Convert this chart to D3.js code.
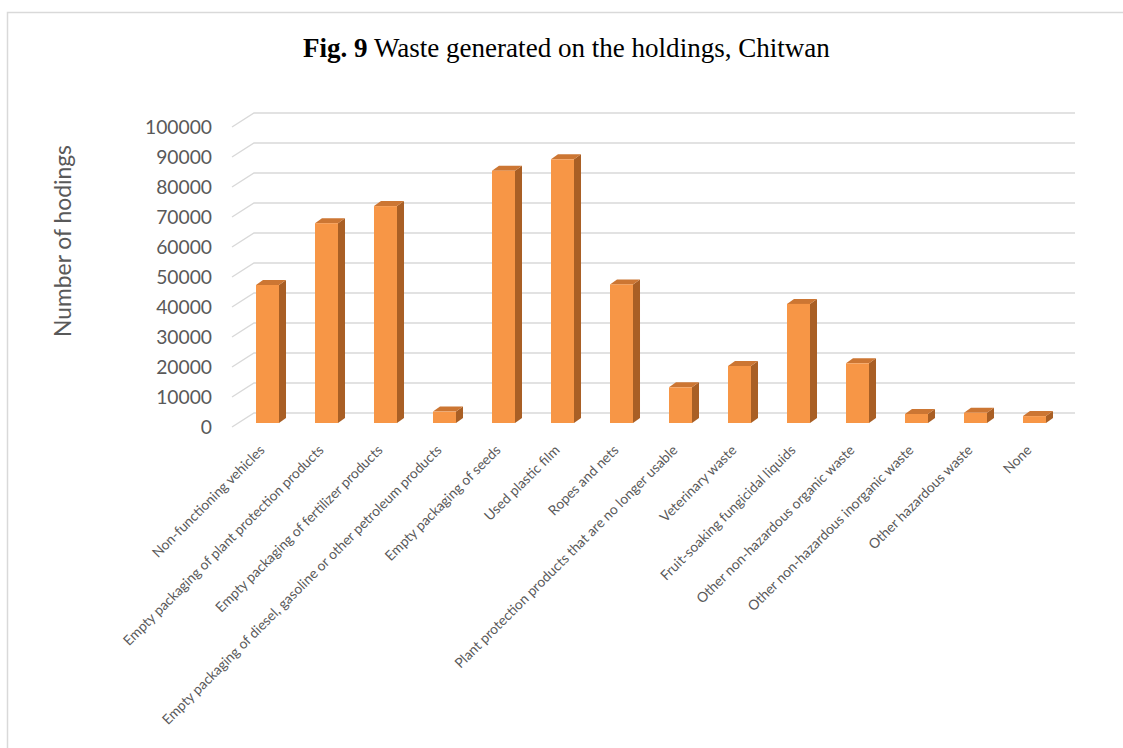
<!DOCTYPE html>
<html>
<head>
<meta charset="utf-8">
<script src="https://cdn.jsdelivr.net/npm/d3@7"></script>
<style>
  html, body { margin: 0; padding: 0; background: #ffffff; }
  svg { display: block; }
</style>
</head>
<body>
<svg id="chart" width="1123" height="748"></svg>
<script>
// ---- data ----
const categories = [
  "Non-functioning vehicles",
  "Empty packaging of plant protection products",
  "Empty packaging of fertilizer products",
  "Empty packaging of diesel, gasoline or other petroleum products",
  "Empty packaging of seeds",
  "Used plastic film",
  "Ropes and nets",
  "Plant protection products that are no longer usable",
  "Veterinary waste",
  "Fruit-soaking fungicidal liquids",
  "Other non-hazardous organic waste",
  "Other non-hazardous inorganic waste",
  "Other hazardous waste",
  "None"
];
const values = [46000, 66600, 72300, 3800, 84100, 87900, 46200, 11900, 19000, 39700, 19900, 3000, 3400, 2300];
const yTicks = [0, 10000, 20000, 30000, 40000, 50000, 60000, 70000, 80000, 90000, 100000];
const titleBold = "Fig. 9";
const titleRest = " Waste generated on the holdings, Chitwan";
const yTitle = "Number of hodings";

// ---- layout / style ----
const svg = d3.select("#chart");
const W = 1123, H = 748;
const depth = { dx: 7, dy: -5 };          // bar depth
const wall = { dx: 22, dy: -14 };         // floor depth (front -> back)
const gridBackX0 = 254, gridBackX1 = 1075;
const sans = "Lato, 'Open Sans', 'Liberation Sans', sans-serif";
const grey = "#595959";

const x = d3.scaleBand()
  .domain(categories)
  .range([238, 1064])
  .paddingInner(0.61)
  .paddingOuter(0.305);

const y = d3.scaleLinear().domain([0, 100000]).range([423, 123]);

function fit(sel, target) {
  const len = sel.node().getComputedTextLength();
  const fs = parseFloat(sel.attr("font-size"));
  sel.attr("font-size", (fs * target / len).toFixed(2));
}

// outer frame (top and left edges visible)
svg.append("path")
  .attr("d", `M7.5,${H} L7.5,12.5 L${W},12.5`)
  .attr("fill", "none")
  .attr("stroke", "#D9D9D9")
  .attr("stroke-width", 1.5);

// title
const title = svg.append("text")
  .attr("x", 303).attr("y", 57)
  .attr("font-family", "'Liberation Serif', 'Times New Roman', serif")
  .attr("font-size", 24)
  .attr("fill", "#000");
title.append("tspan").attr("font-weight", "bold").text(titleBold);
title.append("tspan").text(titleRest);
fit(title, 527);

// gridlines: left wall diagonal + back wall horizontal
const grid = svg.append("g");
yTicks.forEach(v => {
  const yb = y(v) - 10;
  grid.append("path")
    .attr("d", `M${gridBackX0 - wall.dx},${yb - wall.dy} L${gridBackX0},${yb} L${gridBackX1},${yb}`)
    .attr("fill", "none")
    .attr("stroke", "#D9D9D9")
    .attr("stroke-width", 1.4);
});

// y axis labels
const yAxisG = svg.append("g")
  .attr("transform", "translate(212,4)")
  .call(d3.axisLeft(y).tickValues(yTicks).tickFormat(d3.format("d")).tickSize(0).tickPadding(0));
yAxisG.select(".domain").remove();
yAxisG.selectAll("text")
  .attr("font-family", sans)
  .attr("font-size", 20)
  .attr("fill", grey);
const topLabel = yAxisG.selectAll("text").filter(d => d === 100000);
const fs0 = 20 * 67 / topLabel.node().getComputedTextLength();
yAxisG.selectAll("text").attr("font-size", fs0.toFixed(2));

// y title
const yt = svg.append("text")
  .attr("transform", "translate(62,241) rotate(-90)")
  .attr("text-anchor", "middle")
  .attr("dominant-baseline", "central")
  .attr("font-family", sans)
  .attr("font-size", 21)
  .attr("fill", grey)
  .text(yTitle);
fit(yt, 192);

// bars
const bars = svg.append("g").selectAll("g").data(categories).join("g");
bars.each(function(c, i) {
  const g = d3.select(this);
  const x0 = x(c), bw = x.bandwidth();
  const yt0 = y(values[i]), yb0 = y(0);
  // side face
  g.append("path")
    .attr("d", `M${x0 + bw},${yt0} L${x0 + bw + depth.dx},${yt0 + depth.dy} L${x0 + bw + depth.dx},${yb0 + depth.dy} L${x0 + bw},${yb0} Z`)
    .attr("fill", "#A95F25");
  // top face
  g.append("path")
    .attr("d", `M${x0},${yt0} L${x0 + depth.dx},${yt0 + depth.dy} L${x0 + bw + depth.dx},${yt0 + depth.dy} L${x0 + bw},${yt0} Z`)
    .attr("fill", "#CC7633");
  // front face
  g.append("rect")
    .attr("x", x0).attr("y", yt0)
    .attr("width", bw).attr("height", yb0 - yt0)
    .attr("fill", "#F79646");
});

// x labels
const xl = svg.append("g").selectAll("text").data(categories).join("text")
  .attr("transform", c => `translate(${x(c) + x.bandwidth() / 2 - 2},${451}) rotate(-45)`)
  .attr("text-anchor", "end")
  .attr("font-family", sans)
  .attr("font-size", 13)
  .attr("fill", grey)
  .text(c => c);
const ref = xl.filter(c => c === "Other non-hazardous inorganic waste");
const fsx = 13 * 228 / ref.node().getComputedTextLength();
xl.attr("font-size", fsx.toFixed(2));
</script>
</body>
</html>
